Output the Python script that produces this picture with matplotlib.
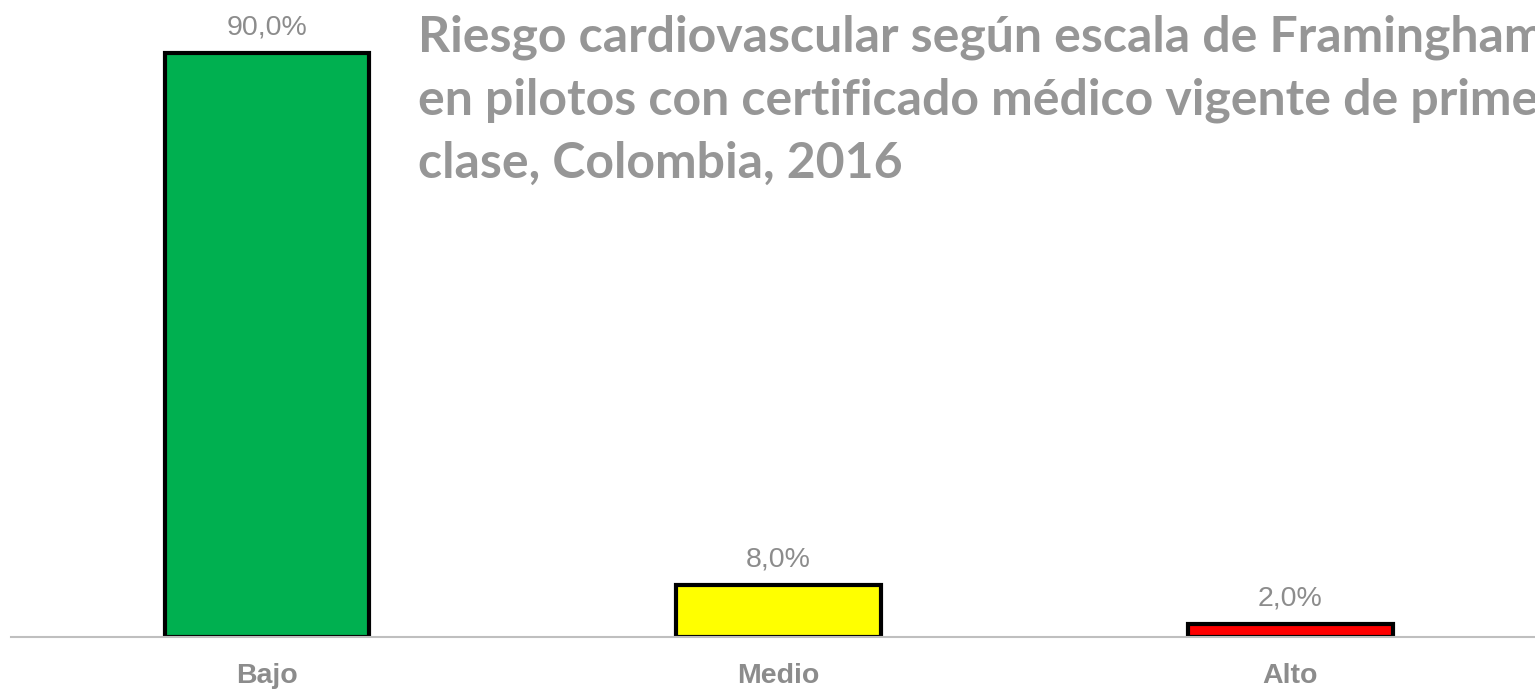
import matplotlib
matplotlib.use("Agg")
import matplotlib.pyplot as plt

# Datos
categorias = ["Bajo", "Medio", "Alto"]
porcentajes = [90.0, 8.0, 2.0]
colores = ["#00B050", "#FFFF00", "#FF0000"]
titulo = ("Riesgo cardiovascular según escala de Framingham\n"
          "en pilotos con certificado médico vigente de primera\n"
          "clase, Colombia, 2016")

GRIS_TEXTO = "#8C8C8C"
GRIS_TITULO = "#969696"

fig = plt.figure(figsize=(15.35, 6.9), dpi=100)
ax = fig.add_axes([11 / 1535, 53 / 690, 1535 / 1535, 637 / 690])

x = range(len(categorias))
barras = ax.bar(x, porcentajes, width=0.40, color=colores,
                edgecolor="black", linewidth=3, zorder=3)

for b, v in zip(barras, porcentajes):
    ax.annotate(f"{v:.1f}%".replace(".", ","),
                (b.get_x() + b.get_width() / 2, b.get_height()),
                xytext=(0, 18.5), textcoords="offset points",
                ha="center", va="center", fontsize=20.5,
                family="Liberation Sans", color=GRIS_TEXTO)

ax.set_xlim(-0.5, 2.5)
ax.set_ylim(0, 90 * 637 / 584)
ax.set_xticks(list(x))
ax.set_xticklabels(categorias, fontsize=20.5, fontweight="bold",
                   family="Liberation Sans", color=GRIS_TEXTO)
ax.tick_params(axis="x", length=0, pad=18.5)
ax.set_yticks([])
for lado in ["top", "right", "left"]:
    ax.spines[lado].set_visible(False)
ax.spines["bottom"].set_color("#BFBFBF")
ax.spines["bottom"].set_linewidth(1.5)
ax.spines["bottom"].set_zorder(4)

fig.text(418 / 1535, 1 - 15 / 690, titulo, ha="left", va="top",
         fontsize=36, fontweight="bold", family="Lato",
         color=GRIS_TITULO, linespacing=1.47)

plt.savefig("out.png", dpi=100)
plt.close()
